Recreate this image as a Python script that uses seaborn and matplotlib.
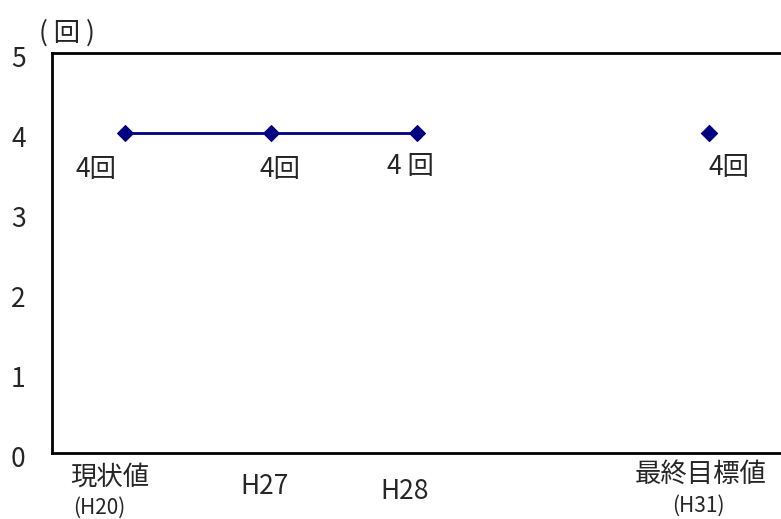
import numpy as np
import pandas as pd
import matplotlib
matplotlib.use("Agg")
import matplotlib.pyplot as plt
import matplotlib.transforms as mtrans
import seaborn as sns

sns.set_style("white")
plt.rcParams['font.family'] = ['Noto Sans CJK JP', 'DejaVu Sans']

# カテゴリと値
cat_main = ["現状値", "H27", "H28", "", "最終目標値"]
cat_sub = ["(H20)", "", "", "", "(H31)"]
values = [4, 4, 4, np.nan, 4]
point_labels = ["4回", "4回", "4 回", "", "4回"]
# ラベルの位置ずれ (pixel)
label_offsets = [(-29, -37), (9, -37), (-6, -34), (0, 0), (20, -35)]
main_offsets = [(-15, -24), (-6, -34), (-12, -39), (0, 0), (-8, -21)]
sub_offsets = [(-26, -55), (0, 0), (0, 0), (0, 0), (-10, -53)]

NAVY = "#000080"
FS = 19

fig = plt.figure(figsize=(7.81, 5.19), dpi=100)
ax = fig.add_axes([0.0666, 0.1272, 0.9344, 0.7707])

df = pd.DataFrame({"x": np.arange(len(cat_main)), "y": values})
line_part = df.iloc[:3]
solo_part = df.iloc[4:]

sns.lineplot(data=line_part, x="x", y="y", ax=ax, color=NAVY, linewidth=2,
             marker="D", markersize=8.5, markeredgecolor=NAVY)
sns.scatterplot(data=solo_part, x="x", y="y", ax=ax, color=NAVY, marker="D",
                s=70, edgecolor=NAVY)

for i, (lab, val) in enumerate(zip(point_labels, values)):
    if not lab:
        continue
    dx, dy = label_offsets[i]
    ax.annotate(lab, (i, val), xytext=(dx, dy), textcoords="offset pixels",
                ha="center", va="center", fontsize=FS)

ax.set_xlim(-0.5, len(cat_main) - 0.5)
ax.set_ylim(0, 5)
ax.set_yticks(range(0, 6))
ax.set_yticklabels([str(v) for v in range(0, 6)], fontsize=FS)
ax.tick_params(axis="y", length=0, pad=19)
shift = mtrans.ScaledTranslation(0, -4 / 100, fig.dpi_scale_trans)
for t in ax.get_yticklabels():
    t.set_transform(t.get_transform() + shift)

# カテゴリ境界の目盛り
ax.set_xticks(np.arange(0.5, len(cat_main) - 0.5))
ax.set_xticklabels([])
ax.tick_params(axis="x", direction="in", length=6, width=0.8, color="#999999")
ax.set_xlabel("")
ax.set_ylabel("")

# カテゴリラベル
for i in range(len(cat_main)):
    if cat_main[i]:
        dx, dy = main_offsets[i]
        ax.annotate(cat_main[i], (i, 0), xytext=(dx, dy), textcoords="offset pixels",
                    ha="center", va="center", fontsize=FS, annotation_clip=False)
    if cat_sub[i]:
        dx, dy = sub_offsets[i]
        ax.annotate(cat_sub[i], (i, 0), xytext=(dx, dy), textcoords="offset pixels",
                    ha="center", va="center", fontsize=15, annotation_clip=False)

for side in ["left", "top", "bottom"]:
    ax.spines[side].set_color("black")
    ax.spines[side].set_linewidth(2)
ax.spines["right"].set_visible(False)

fig.text(67 / 781, 1 - 33 / 519, "( 回 )", ha="center", va="center", fontsize=FS)

fig.savefig("out.png", dpi=100)
